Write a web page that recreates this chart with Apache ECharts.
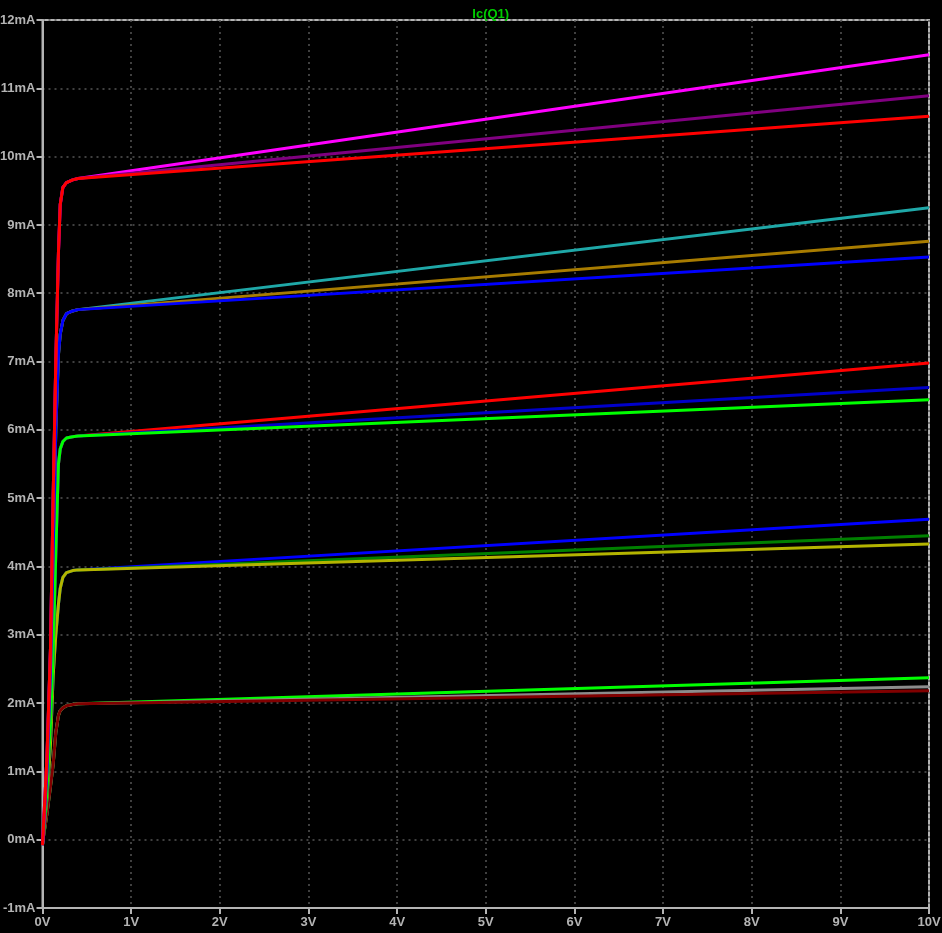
<!DOCTYPE html>
<html>
<head>
<meta charset="utf-8">
<script src="https://cdn.jsdelivr.net/npm/echarts@6/dist/echarts.min.js"></script>
<style>
html,body{margin:0;padding:0;background:#000;}
#chart{width:942px;height:933px;}
</style>
</head>
<body>
<div id="chart"></div>
<script>
// Vce sample points (V) for the saturation rise, plus the 10V end
const riseVolts = [0, 0.05, 0.09, 0.12, 0.15, 0.18, 0.2, 0.23, 0.27, 0.34, 0.4];
const endVolt = 10;
// Ic (mA) at riseVolts for each base-current group
const riseG1 = [-0.08, 1.2, 2.8, 5.0, 7.0, 8.6, 9.3, 9.55, 9.62, 9.66, 9.68];
const riseG2 = [-0.08, 1.0, 2.5, 4.2, 6.0, 7.1, 7.4, 7.6, 7.7, 7.74, 7.76];
const riseG3 = [-0.08, 0.7, 1.7, 2.7, 4.2, 5.5, 5.72, 5.83, 5.88, 5.9, 5.91];
const riseG4 = [-0.07, 0.6, 1.4, 2.4, 3.0, 3.45, 3.68, 3.84, 3.91, 3.94, 3.95];
const riseG5 = [-0.05, 0.38, 0.78, 1.1, 1.57, 1.82, 1.89, 1.93, 1.96, 1.98, 1.99];
// Ic (mA) at 10V for each trace
const seriesNames = ['G5a','G5b','G5c','G4a','G4b','G4c','G3a','G3b','G3c','G2a','G2b','G2c','G1a','G1b','G1c'];
const seriesRise  = [riseG5,riseG5,riseG5,riseG4,riseG4,riseG4,riseG3,riseG3,riseG3,riseG2,riseG2,riseG2,riseG1,riseG1,riseG1];
const endValues   = [2.37, 2.24, 2.18, 4.69, 4.45, 4.33, 6.98, 6.62, 6.44, 9.25, 8.76, 8.53, 11.49, 10.89, 10.59];
const seriesColors = ['#00ff00','#8c8c8c','#800000','#0000ff','#008000','#b4b400','#ff0000','#0000c8','#00ff00','#1fa8a8','#a87c00','#0000ff','#ff00ff','#800080','#ff0000'];
// axis ticks
const xTickLabels = ['0V','1V','2V','3V','4V','5V','6V','7V','8V','9V','10V'];
const yTickLabels = ['-1mA','0mA','1mA','2mA','3mA','4mA','5mA','6mA','7mA','8mA','9mA','10mA','11mA','12mA'];

const chart = echarts.init(document.getElementById('chart'));
const axisGray = '#b4b4b4';
const font = '"Liberation Sans", Arial, sans-serif';
const series = seriesNames.map((n, k) => ({
  name: n,
  type: 'line',
  showSymbol: false,
  symbol: 'none',
  animation: false,
  lineStyle: {color: seriesColors[k], width: 3},
  itemStyle: {color: seriesColors[k]},
  data: riseVolts.map((v, i) => [v, seriesRise[k][i]]).concat([[endVolt, endValues[k]]])
}));

chart.setOption({
  backgroundColor: '#000000',
  animation: false,
  title: {
    text: 'Ic(Q1)', left: 485.75, top: 3, textAlign: 'center',
    textStyle: {color: '#00cc00', fontSize: 13, fontWeight: 'bold', fontFamily: font}
  },
  grid: {left: 42.5, right: 13, top: 20, bottom: 25, containLabel: false, outerBoundsMode: 'none',
    show: true, borderColor: axisGray, borderWidth: 2, backgroundColor: 'transparent'},
  xAxis: {
    type: 'value', min: 0, max: 10, interval: 1,
    axisLine: {show: true, onZero: false, lineStyle: {color: axisGray, width: 2}},
    axisTick: {show: true, length: 6, lineStyle: {color: axisGray, width: 2}},
    axisLabel: {color: axisGray, fontSize: 13, fontWeight: 'bold', fontFamily: font, margin: 8,
      formatter: v => xTickLabels[Math.round(v)]},
    splitLine: {show: true, lineStyle: {color: '#555555', width: 1.5, type: [2, 4]}}
  },
  yAxis: {
    type: 'value', min: -1, max: 12, interval: 1,
    axisLine: {show: true, onZero: false, lineStyle: {color: axisGray, width: 2}},
    axisTick: {show: true, length: 6, lineStyle: {color: axisGray, width: 2}},
    axisLabel: {color: axisGray, fontSize: 13, fontWeight: 'bold', fontFamily: font, margin: 7,
      formatter: v => yTickLabels[Math.round(v) + 1]},
    splitLine: {show: true, lineStyle: {color: '#555555', width: 1.5, type: [2, 4]}}
  },
  series: series
});
</script>
</body>
</html>
